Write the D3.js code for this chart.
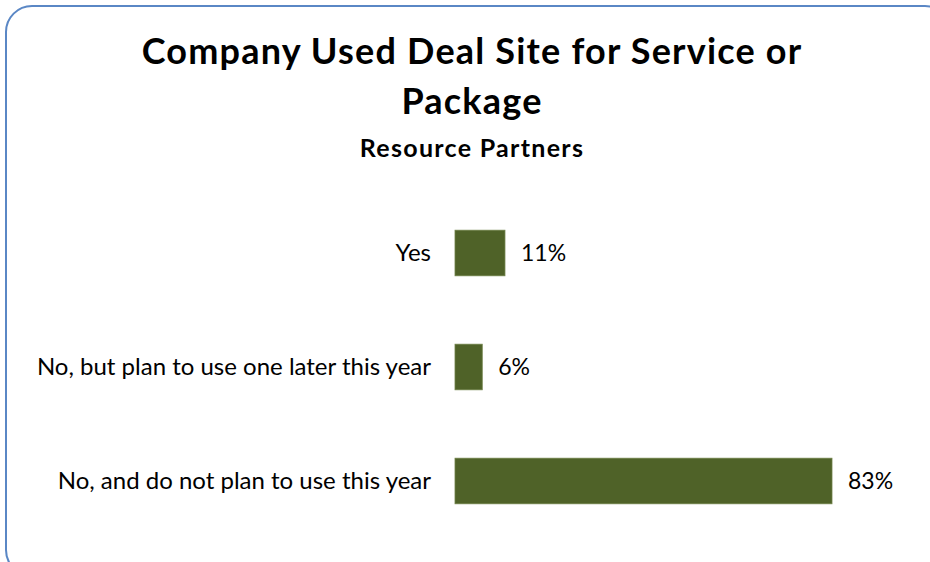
<!DOCTYPE html>
<html>
<head>
<meta charset="utf-8">
<script src="https://cdn.jsdelivr.net/npm/d3@7"></script>
<style>
  html, body { margin: 0; padding: 0; background: #fff; overflow: hidden; }
  svg { display: block; font-family: Lato, "Open Sans", sans-serif; }
</style>
</head>
<body>
<svg id="chart" width="930" height="562"></svg>
<script>
// Survey answers and their shares (percent)
const categories = [
  "Yes",
  "No, but plan to use one later this year",
  "No, and do not plan to use this year"
];
const values = [11, 6, 83];
const titleLines = ["Company Used Deal Site for Service or", "Package"];
const subtitle = "Resource Partners";

const svg = d3.select("#chart");

// Rounded frame around the chart area
svg.append("rect")
  .attr("x", 6).attr("y", 6)
  .attr("width", 945).attr("height", 570)
  .attr("rx", 26).attr("ry", 26)
  .attr("fill", "#fff")
  .attr("stroke", "#5a87c5")
  .attr("stroke-width", 2);

// Titles
const title = svg.append("text")
  .attr("text-anchor", "middle")
  .attr("font-weight", 700)
  .attr("font-size", 36)
  .attr("letter-spacing", 1.2)
  .attr("fill", "#000");
title.selectAll("tspan").data(titleLines).join("tspan")
  .attr("x", 472)
  .attr("y", (d, i) => 64 + i * 50)
  .text(d => d);

svg.append("text")
  .attr("x", 472).attr("y", 157)
  .attr("text-anchor", "middle")
  .attr("font-weight", 700)
  .attr("font-size", 25)
  .attr("letter-spacing", 1.3)
  .text(subtitle);

// Scales
const x = d3.scaleLinear().domain([0, 83]).range([455, 832]);
const y = d3.scaleBand().domain(categories).range([196, 538]).paddingInner(0.6).paddingOuter(0.3);

const g = svg.append("g");

g.selectAll("rect.bar").data(categories).join("rect")
  .attr("class", "bar")
  .attr("x", x(0))
  .attr("y", d => y(d))
  .attr("width", (d, i) => x(values[i]) - x(0))
  .attr("height", y.bandwidth())
  .attr("fill", "#4f6228")
  .attr("stroke", "#6f8048")
  .attr("stroke-width", 0.8);

// Category labels, right-aligned against the bars
g.selectAll("text.cat").data(categories).join("text")
  .attr("class", "cat")
  .attr("x", 431)
  .attr("y", d => y(d) + y.bandwidth() / 2)
  .attr("dy", "0.35em")
  .attr("text-anchor", "end")
  .attr("font-size", 24)
  .attr("fill", "#000")
  .text(d => d);

// Value labels at bar ends
g.selectAll("text.val").data(categories).join("text")
  .attr("class", "val")
  .attr("x", (d, i) => x(values[i]) + 16)
  .attr("y", d => y(d) + y.bandwidth() / 2)
  .attr("dy", "0.35em")
  .attr("font-size", 23)
  .attr("fill", "#000")
  .text((d, i) => values[i] + "%");
</script>
</body>
</html>
